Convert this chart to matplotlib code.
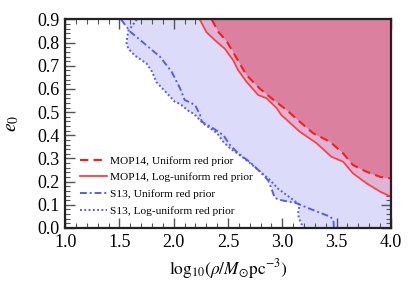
import numpy as np
import matplotlib
matplotlib.use("Agg")
import matplotlib.pyplot as plt
from matplotlib.ticker import MultipleLocator

# --- data ---
# S13, uniform red prior (dash-dot): log10 rho, e0
s13_uni_x = [1.515, 1.60, 1.72, 1.874, 1.98, 2.058, 2.10, 2.196, 2.242, 2.258, 2.364,
             2.456, 2.518, 2.594, 2.70, 2.79, 2.87, 2.90, 2.93, 2.98, 3.13, 3.28,
             3.44, 3.47, 3.475]
s13_uni_e = [0.90, 0.847, 0.80, 0.739, 0.675, 0.603, 0.553, 0.531, 0.488, 0.459, 0.430,
             0.401, 0.358, 0.322, 0.285, 0.245, 0.205, 0.17, 0.13, 0.121, 0.107, 0.078,
             0.049, 0.035, 0.0]
# S13, log-uniform red prior (dotted)
s13_log_x = [1.66, 1.58, 1.565, 1.58, 1.64, 1.75, 1.80, 1.84, 1.92, 2.01, 2.06, 2.15,
             2.18, 2.27, 2.40, 2.456, 2.518, 2.65, 2.78, 2.88, 2.96, 3.06, 3.16, 3.146,
             3.15, 3.18, 3.18]
s13_log_e = [0.90, 0.85, 0.80, 0.775, 0.745, 0.71, 0.675, 0.63, 0.59, 0.545, 0.535, 0.50,
             0.495, 0.452, 0.409, 0.372, 0.344, 0.30, 0.25, 0.21, 0.17, 0.135, 0.10, 0.07,
             0.045, 0.013, 0.0]
# MOP14, log-uniform red prior (solid)
mop_log_x = [2.24, 2.26, 2.30, 2.38, 2.47, 2.547, 2.593, 2.67, 2.778, 2.855, 2.948, 2.99,
             3.16, 3.315, 3.45, 3.56, 3.65, 3.775, 3.90, 4.0]
mop_log_e = [0.90, 0.882, 0.846, 0.81, 0.774, 0.724, 0.681, 0.631, 0.574, 0.56, 0.517, 0.488,
             0.416, 0.366, 0.308, 0.286, 0.236, 0.193, 0.157, 0.135]
# MOP14, uniform red prior (dashed)
mop_uni_x = [2.35, 2.41, 2.49, 2.58, 2.67, 2.79, 2.90, 3.04, 3.16, 3.284, 3.44, 3.56,
             3.65, 3.775, 3.90, 4.0]
mop_uni_e = [0.90, 0.847, 0.804, 0.732, 0.66, 0.603, 0.56, 0.509, 0.459, 0.409, 0.372, 0.322,
             0.272, 0.243, 0.221, 0.214]

labels = ["MOP14, Uniform red prior", "MOP14, Log-uniform red prior",
          "S13, Uniform red prior", "S13, Log-uniform red prior"]

plt.rcParams['font.family'] = ['Liberation Serif', 'DejaVu Serif']
plt.rcParams['mathtext.fontset'] = 'stix'

fig = plt.figure(figsize=(4.15, 2.91), dpi=100)
ax = fig.add_axes([0.157, 0.2165, 0.785, 0.7165])

XMAX = 4.0
# blue region: right of the leftmost S13 curve
grid = np.linspace(0, 0.9, 400)
xa = np.interp(grid, s13_uni_e[::-1], s13_uni_x[::-1])
xb = np.interp(grid, s13_log_e[::-1], s13_log_x[::-1])
ax.fill_betweenx(grid, np.minimum(xa, xb), XMAX, color='#DCDCFA', lw=0, zorder=1)
ax.fill_betweenx(mop_log_e, mop_log_x, XMAX, color='#DEB3D5', lw=0, zorder=2)
ax.fill_betweenx(mop_uni_e, mop_uni_x, XMAX, color='#DC80A0', lw=0, zorder=3)

ax.plot(mop_uni_x, mop_uni_e, color='#FF1A1A', lw=1.5, ls=(0, (4, 2.5)), zorder=5, label=labels[0])
ax.plot(mop_log_x, mop_log_e, color='#FF4040', lw=1.3, ls='-', zorder=5, label=labels[1])
ax.plot(s13_uni_x, s13_uni_e, color='#5A5AF0', lw=1.4, ls=(0, (3.5, 1.5, 1, 1.5)), zorder=5, label=labels[2])
ax.plot(s13_log_x, s13_log_e, color='#5A5AF0', lw=1.4, ls=(0, (1, 1.2)), zorder=5, label=labels[3])

ax.set_xlim(1.0, 4.0)
ax.set_ylim(0.0, 0.9)
ax.xaxis.set_major_locator(MultipleLocator(0.5))
ax.xaxis.set_minor_locator(MultipleLocator(0.1))
ax.yaxis.set_major_locator(MultipleLocator(0.1))
ax.yaxis.set_minor_locator(MultipleLocator(0.02))
ax.tick_params(which='both', direction='in', top=True, right=True, color='#555555', labelsize=13)
ax.tick_params(which='major', length=7, width=1.0, pad=4)
ax.tick_params(which='minor', length=3.5, width=0.8)
for s in ax.spines.values():
    s.set_linewidth(1.6)
    s.set_color('#222222')
    s.set_zorder(10)

ax.set_xlabel(r'$\mathrm{log}_{10}(\rho/M_{\odot}\mathrm{pc}^{-3})$', fontsize=12.5)
ax.xaxis.set_label_coords(0.5, -0.14)
ax.set_ylabel(r'$e_0$', fontsize=14)
ax.yaxis.set_label_coords(-0.135, 0.5)

ax.legend(loc='lower left', bbox_to_anchor=(0.01, 0.0), frameon=False, fontsize=8.2,
          handlelength=2.3, handletextpad=0.3, labelspacing=0.6, borderaxespad=0.65)

fig.savefig('out.png', dpi=100)
